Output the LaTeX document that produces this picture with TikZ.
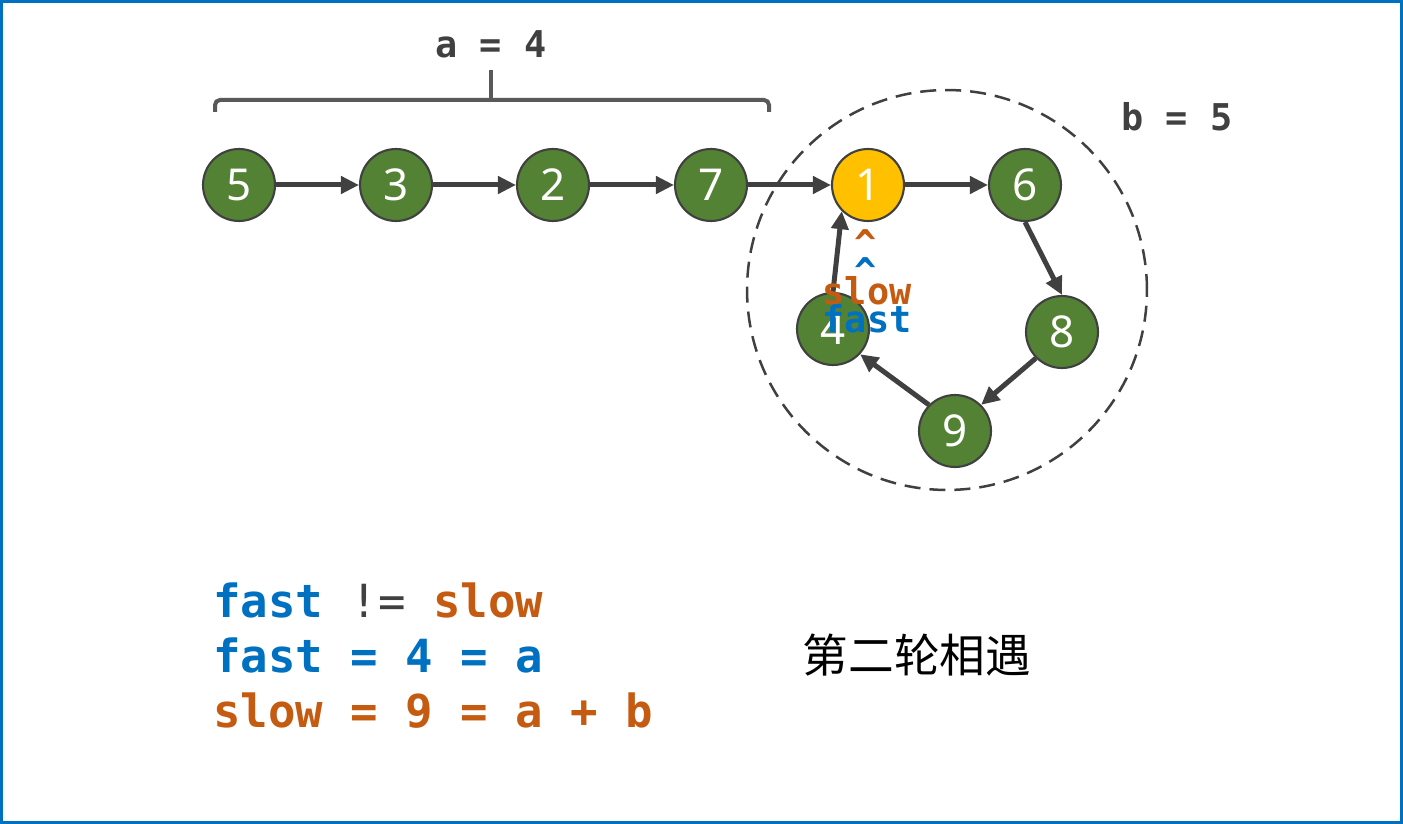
\documentclass[tikz,border=0pt]{standalone}
\usepackage{fontspec}
\setmainfont{Noto Sans}
\setmonofont{DejaVu Sans Mono}
\newfontfamily\cjk{Noto Sans CJK SC}
\usetikzlibrary{arrows.meta,positioning}
\definecolor{listgreen}{HTML}{548235}
\definecolor{meetyellow}{HTML}{FFC000}
\definecolor{slowcol}{HTML}{C55A11}
\definecolor{fastcol}{HTML}{0070C0}
\definecolor{darkline}{HTML}{404040}
\definecolor{bracecol}{HTML}{595959}

\begin{document}
\begin{tikzpicture}
  [x=0.02cm, y=-0.02cm,
   listnode/.style={circle, draw=darkline, line width=1.2pt, fill=listgreen,
     minimum size=1.44cm, inner sep=0pt, text=white,
     font=\fontsize{25}{25}\selectfont},
   meetnode/.style={listnode, fill=meetyellow},
   link/.style={draw=darkline, line width=0.1cm,
     -{Triangle[length=0.36cm,width=0.34cm]}},
   codelabel/.style={font=\ttfamily\bfseries\fontsize{21}{21}\selectfont, inner sep=0pt},
   codeline/.style={font=\ttfamily\bfseries\fontsize{26}{26}\selectfont, inner sep=0pt, anchor=base west}]

  \useasboundingbox (0,0) rectangle (1403,824);
  \draw[fastcol, line width=0.06cm] (1.5,1.5) rectangle (1401.5,822.5);

  % the loop
  \node[circle, draw=darkline, dashed, dash pattern=on 0.32cm off 0.18cm,
    line width=0.05cm, minimum size=8cm] (loop) at (947,290) {};

  % list nodes
  \node[listnode] (n5) at (239,185) {5};
  \node[listnode] (n3) at (396,185) {3};
  \node[listnode] (n2) at (553,185) {2};
  \node[listnode] (n7) at (711,185) {7};
  \node[meetnode] (n1) at (868,185) {1};
  \node[listnode] (n6) at (1025,185) {6};
  \node[listnode] (n8) at (1062,332) {8};
  \node[listnode] (n9) at (955,431) {9};
  \node[listnode] (n4) at (833,329) {4};

  \draw[link] (n5) -- (n3);
  \draw[link] (n3) -- (n2);
  \draw[link] (n2) -- (n7);
  \draw[link] (n7) -- (n1);
  \draw[link] (n1) -- (n6);
  \draw[link] (n6.south) -- (n8.north);
  \draw[link] (n8.225) -- (n9.45);
  \draw[link] (n9.135) -- (n4.-43);
  \draw[link] (n4.north) -- (n1.225);

  % brace over a
  \coordinate (bl) at (215,112);
  \coordinate (br) at (769,112);
  \coordinate (bm) at (491,100);
  \coordinate (bt) at (491,70);
  \draw[bracecol, line width=0.08cm, rounded corners=0.1cm]
    (bl) -- (215,100) -- (769,100) -- (br);
  \draw[bracecol, line width=0.08cm] (bm) -- (bt);
  \node[codelabel, text=darkline] (alabel) at (491,44) {a = 4};
  \node[codelabel, text=darkline] (blabel) at (1177,117) {b = 5};

  % pointers
  \node[codelabel, text=slowcol] (slowhat) at (866,243) {\^{}};
  \node[codelabel, text=fastcol] (fasthat) at (866,271) {\^{}};
  \node[codelabel, text=slowcol, anchor=base] (slowname) at (867,304) {slow};
  \node[codelabel, text=fastcol, anchor=base] (fastname) at (867,333) {fast};

  % bottom
  \node[codeline] (line1) at (213,617) {\textcolor{fastcol}{fast} \textcolor{darkline}{\mdseries !=} \textcolor{slowcol}{slow}};
  \node[codeline, text=fastcol] (line2) at (213,672) {fast = 4 = a};
  \node[codeline, text=slowcol] (line3) at (213,727) {slow = 9 = a + b};
  \node[font=\cjk\fontsize{26}{26}\selectfont] (meet) at (917,655) {第二轮相遇};
\end{tikzpicture}
\end{document}
